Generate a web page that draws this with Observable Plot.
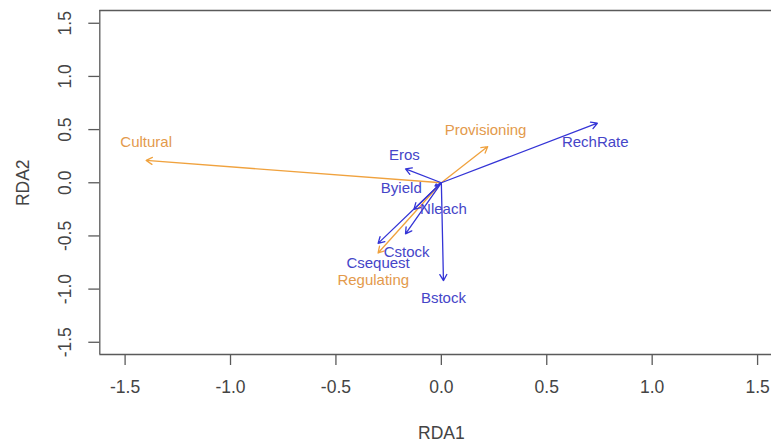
<!DOCTYPE html>
<html>
<head>
<meta charset="utf-8">
<script src="https://cdn.jsdelivr.net/npm/d3@7"></script>
<script src="https://cdn.jsdelivr.net/npm/@observablehq/plot@0.6"></script>
<style>
  html, body { margin: 0; padding: 0; background: #fff; }
  #chart svg { display: block; }
</style>
</head>
<body>
<div id="chart"></div>
<script>
// Variable names and their RDA1 / RDA2 scores (arrow tips)
const names  = ["Cultural", "Provisioning", "Regulating", "RechRate", "Eros", "Byield", "Nleach", "Cstock", "Csequest", "Bstock"];
const groups = ["service", "service", "service", "driver", "driver", "driver", "driver", "driver", "driver", "driver"];
const rda1   = [-1.40, 0.22, -0.30, 0.74, -0.17, -0.03, -0.13, -0.17, -0.30, 0.01];
const rda2   = [0.21, 0.34, -0.66, 0.56, 0.13, -0.03, -0.25, -0.48, -0.57, -0.92];
// Label positions (as placed in the reference)
const labelX = [-1.40, 0.21, -0.323, 0.73, -0.175, -0.19, 0.01, -0.165, -0.30, 0.01];
const labelY = [0.38, 0.49, -0.915, 0.38, 0.26, -0.055, -0.25, -0.655, -0.76, -1.09];

const xTicks = [-1.5, -1.0, -0.5, 0.0, 0.5, 1.0, 1.5];
const yTicks = [-1.5, -1.0, -0.5, 0.0, 0.5, 1.0, 1.5];

const xDomain = [-1.62, 1.566];
const yDomain = [-1.615, 1.62];

const data = names.map((n, i) => ({name: n, group: groups[i], x: rda1[i], y: rda2[i], lx: labelX[i], ly: labelY[i]}));

const lineColor = {service: "#f0a23e", driver: "#3434d6"};
const textColor = {service: "#e39a4c", driver: "#4545c8"};
const axisColor = "#5a5a5a";
const font = "'Liberation Sans', Arial, sans-serif";

const plot = Plot.plot({
  width: 771,
  height: 445,
  marginLeft: 99.3,
  marginRight: 0,
  marginTop: 10,
  marginBottom: 91,
  style: {fontFamily: font, background: "#fff"},
  x: {type: "linear", domain: xDomain},
  y: {type: "linear", domain: yDomain},
  marks: [
    // box (left, top, bottom)
    Plot.ruleX([xDomain[0]], {x: d => d, stroke: axisColor, strokeWidth: 1.3}),
    Plot.ruleY([yDomain[0], yDomain[1]], {y: d => d, stroke: axisColor, strokeWidth: 1.3}),
    // x axis ticks + labels
    Plot.axisX(xTicks, {tickSize: 11, tickPadding: 15, fontSize: 17.5, stroke: axisColor, fill: "#444", strokeWidth: 1.3, tickFormat: d => d.toFixed(1), label: null}),
    // y axis ticks
    Plot.axisY(yTicks, {tickSize: 11, tickFormat: () => "", stroke: axisColor, strokeWidth: 1.3, label: null}),
    // rotated y tick labels
    Plot.text(yTicks, {x: xDomain[0], y: d => d, text: d => d.toFixed(1), rotate: -90, dx: -34, textAnchor: "middle", lineAnchor: "middle", fontSize: 17.5, fill: "#444"}),
    // axis titles
    Plot.text(["RDA1"], {x: 0, frameAnchor: "bottom", dy: 79, text: d => d, fontSize: 17.5, fill: "#444", lineAnchor: "middle"}),
    Plot.text(["RDA2"], {y: 0, frameAnchor: "left", dx: -76, text: d => d, rotate: -90, fontSize: 17.5, fill: "#444", lineAnchor: "middle", textAnchor: "middle"}),
    // arrows
    Plot.arrow(data.filter(d => d.group === "service"), {x1: 0, y1: 0, x2: "x", y2: "y", stroke: lineColor.service, strokeWidth: 1.3, headLength: 8, bend: 0}),
    Plot.arrow(data.filter(d => d.group === "driver"), {x1: 0, y1: 0, x2: "x", y2: "y", stroke: lineColor.driver, strokeWidth: 1.3, headLength: 8, bend: 0}),
    // labels
    Plot.text(data, {x: "lx", y: "ly", text: "name", fill: d => textColor[d.group], fontSize: 15, textAnchor: "middle", lineAnchor: "middle"})
  ]
});

document.getElementById("chart").appendChild(plot);
</script>
</body>
</html>
